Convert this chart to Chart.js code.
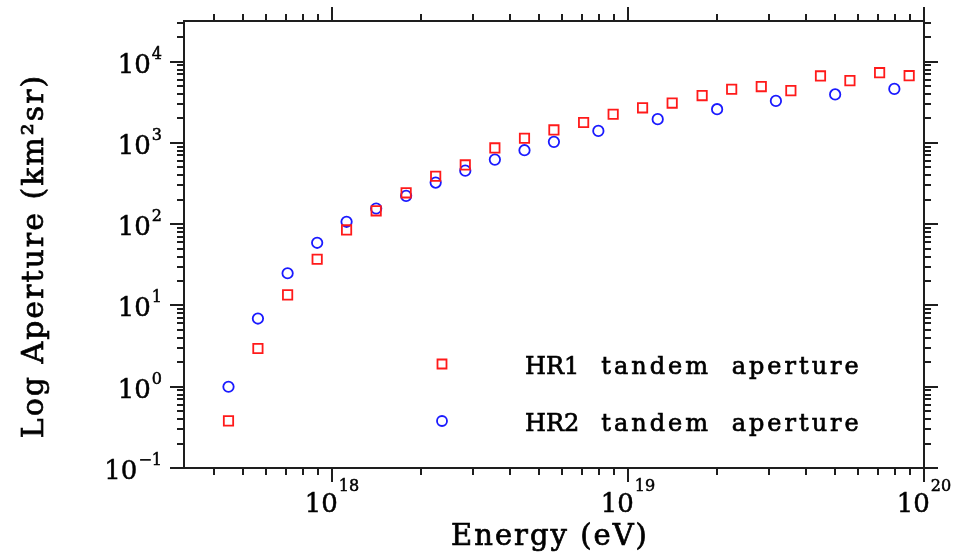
<!DOCTYPE html>
<html>
<head>
<meta charset="utf-8">
<script src="https://cdn.jsdelivr.net/npm/chart.js@4.4.1/dist/chart.umd.min.js"></script>
<style>
  html, body { margin: 0; padding: 0; background: #fff; }
  canvas { display: block; }
</style>
</head>
<body>
<canvas id="apertureChart" width="953" height="552"></canvas>
<script>
// Tandem aperture vs energy
const hr1Energy = [4.47e17, 5.62e17, 7.08e17, 8.91e17, 1.12e18, 1.41e18, 1.78e18, 2.24e18,
                   2.82e18, 3.55e18, 4.47e18, 5.62e18, 7.08e18, 8.91e18, 1.12e19, 1.41e19,
                   1.78e19, 2.24e19, 2.82e19, 3.55e19, 4.47e19, 5.62e19, 7.08e19, 8.91e19];
const hr1Aperture = [0.38, 2.95, 13.5, 37, 85, 146, 243, 389,
                     536, 868, 1140, 1445, 1780, 2250, 2700, 3090,
                     3820, 4580, 4930, 4400, 6670, 5840, 7320, 6720];

const hr2Energy = [4.47e17, 5.62e17, 7.08e17, 8.91e17, 1.12e18, 1.41e18, 1.78e18, 2.24e18,
                   2.82e18, 3.55e18, 4.47e18, 5.62e18, 7.94e18, 1.26e19, 2.00e19, 3.16e19,
                   5.01e19, 7.94e19];
const hr2Aperture = [1.0, 6.9, 24.9, 59, 107, 156, 223, 325,
                     456, 623, 813, 1030, 1405, 1960, 2600, 3290,
                     3950, 4620];

const seriesLabels = ['HR1 tandem aperture', 'HR2 tandem aperture'];

const xMajorTicks = [1e18, 1e19, 1e20];
const xTickExponents = ['18', '19', '20'];
const yMajorTicks = [0.1, 1, 10, 100, 1000, 10000];
const yTickExponents = ['\u22121', '0', '1', '2', '3', '4'];

const xTitle = 'Energy (eV)';
const yTitle = 'Log Aperture (km\u00b2sr)';

const FONT = '"DejaVu Serif", serif';
const INK = '#1e1e1e';

// 1..9 x 10^n inside [min, max]
function logTicks(min, max) {
  const out = [];
  for (let e = Math.floor(Math.log10(min)); e <= Math.ceil(Math.log10(max)); e++) {
    for (let m = 1; m <= 9; m++) {
      const v = m * Math.pow(10, e);
      if (v >= min * 0.999 && v <= max * 1.001) out.push({ v: v, major: m === 1 });
    }
  }
  return out;
}

// text with a hairline stroke so it reads a bit heavier
function inkText(ctx, s, x, y) {
  ctx.fillText(s, x, y);
  ctx.strokeText(s, x, y);
}

function drawMarker(ctx, style, color, x, y) {
  ctx.save();
  ctx.strokeStyle = color;
  ctx.lineWidth = 1.8;
  ctx.beginPath();
  if (style === 'rect') {
    ctx.rect(x - 4.5, y - 4.5, 9, 9);
  } else {
    ctx.arc(x, y, 5, 0, Math.PI * 2);
  }
  ctx.stroke();
  ctx.restore();
}

const frameAxes = {
  id: 'frameAxes',
  afterDraw(chart) {
    const ctx = chart.ctx;
    const a = chart.chartArea;
    const xs = chart.scales.x;
    const ys = chart.scales.y;

    ctx.save();
    ctx.strokeStyle = INK;
    ctx.lineWidth = 2;
    ctx.strokeRect(a.left, a.top, a.right - a.left, a.bottom - a.top);

    // ticks, all pointing outward
    ctx.beginPath();
    logTicks(xs.min, xs.max).forEach(t => {
      const px = Math.round(xs.getPixelForValue(t.v));
      const len = t.major ? 14 : 7;
      ctx.moveTo(px, a.bottom); ctx.lineTo(px, a.bottom + len);
      ctx.moveTo(px, a.top); ctx.lineTo(px, a.top - len);
    });
    logTicks(ys.min, ys.max).forEach(t => {
      const py = Math.round(ys.getPixelForValue(t.v));
      const len = t.major ? 14 : 7;
      ctx.moveTo(a.left, py); ctx.lineTo(a.left - len, py);
      ctx.moveTo(a.right, py); ctx.lineTo(a.right + len, py);
    });
    ctx.stroke();

    // tick labels 10^n
    ctx.fillStyle = '#000';
    ctx.strokeStyle = '#000';
    ctx.lineWidth = 0.5;
    ctx.textBaseline = 'alphabetic';
    ctx.textAlign = 'left';
    xMajorTicks.forEach((v, i) => {
      const px = xs.getPixelForValue(v);
      ctx.font = '26px ' + FONT;
      const w1 = ctx.measureText('10').width;
      ctx.font = '16px ' + FONT;
      const w2 = ctx.measureText(xTickExponents[i]).width;
      const x0 = px - (w1 + w2 + 1) / 2;
      ctx.font = '26px ' + FONT;
      inkText(ctx, '10', x0, a.bottom + 44);
      ctx.font = '16px ' + FONT;
      inkText(ctx, xTickExponents[i], x0 + w1 + 1, a.bottom + 23);
    });
    yMajorTicks.forEach((v, i) => {
      const py = ys.getPixelForValue(v);
      ctx.font = '16px ' + FONT;
      const w2 = ctx.measureText(yTickExponents[i]).width;
      ctx.font = '26px ' + FONT;
      const w1 = ctx.measureText('10').width;
      const x0 = 162 - w2 - 1 - w1;
      inkText(ctx, '10', x0, py + 11);
      ctx.font = '16px ' + FONT;
      inkText(ctx, yTickExponents[i], x0 + w1 + 1, py - 3);
    });

    // axis titles
    ctx.lineWidth = 0.7;
    ctx.font = '29px ' + FONT;
    ctx.letterSpacing = '2px';
    ctx.textAlign = 'center';
    inkText(ctx, xTitle, 550, 545);
    ctx.save();
    ctx.translate(43, 256);
    ctx.rotate(-Math.PI / 2);
    ctx.font = '30px ' + FONT;
    inkText(ctx, yTitle, 0, 0);
    ctx.restore();

    // legend inside the plot: tag word tight, the rest spaced out
    const rows = [364, 421];
    ctx.font = '24px ' + FONT;
    ctx.textAlign = 'left';
    chart.data.datasets.forEach((ds, i) => {
      drawMarker(ctx, ds.pointStyle, ds.borderColor, 442, rows[i]);
      const cut = ds.label.indexOf(' ');
      const tag = ds.label.slice(0, cut);
      const rest = ds.label.slice(cut + 1);
      ctx.letterSpacing = '0px';
      ctx.wordSpacing = '0px';
      inkText(ctx, tag, 525, rows[i] + 10);
      const tagW = ctx.measureText(tag).width;
      ctx.letterSpacing = '3px';
      ctx.wordSpacing = '10px';
      inkText(ctx, rest, 525 + tagW + 22, rows[i] + 10);
    });
    ctx.restore();
  }
};

const ctx = document.getElementById('apertureChart').getContext('2d');
new Chart(ctx, {
  type: 'scatter',
  data: {
    datasets: [
      {
        label: seriesLabels[0],
        data: hr1Energy.map((e, i) => ({ x: e, y: hr1Aperture[i] })),
        pointStyle: 'rect',
        pointRadius: 6.6,
        pointBorderWidth: 1.8,
        borderColor: '#ff1a1a',
        backgroundColor: 'rgba(0,0,0,0)'
      },
      {
        label: seriesLabels[1],
        data: hr2Energy.map((e, i) => ({ x: e, y: hr2Aperture[i] })),
        pointStyle: 'circle',
        pointRadius: 5.2,
        pointBorderWidth: 1.8,
        borderColor: '#1a1aff',
        backgroundColor: 'rgba(0,0,0,0)'
      }
    ]
  },
  options: {
    responsive: false,
    animation: false,
    layout: { padding: { left: 184, top: 21, right: 29, bottom: 84 } },
    scales: {
      x: { type: 'logarithmic', min: Math.pow(10, 17.5), max: 1e20, display: false },
      y: { type: 'logarithmic', min: 0.1, max: Math.pow(10, 4.5), display: false }
    },
    plugins: {
      legend: { display: false },
      tooltip: { enabled: false }
    }
  },
  plugins: [frameAxes]
});
</script>
</body>
</html>
